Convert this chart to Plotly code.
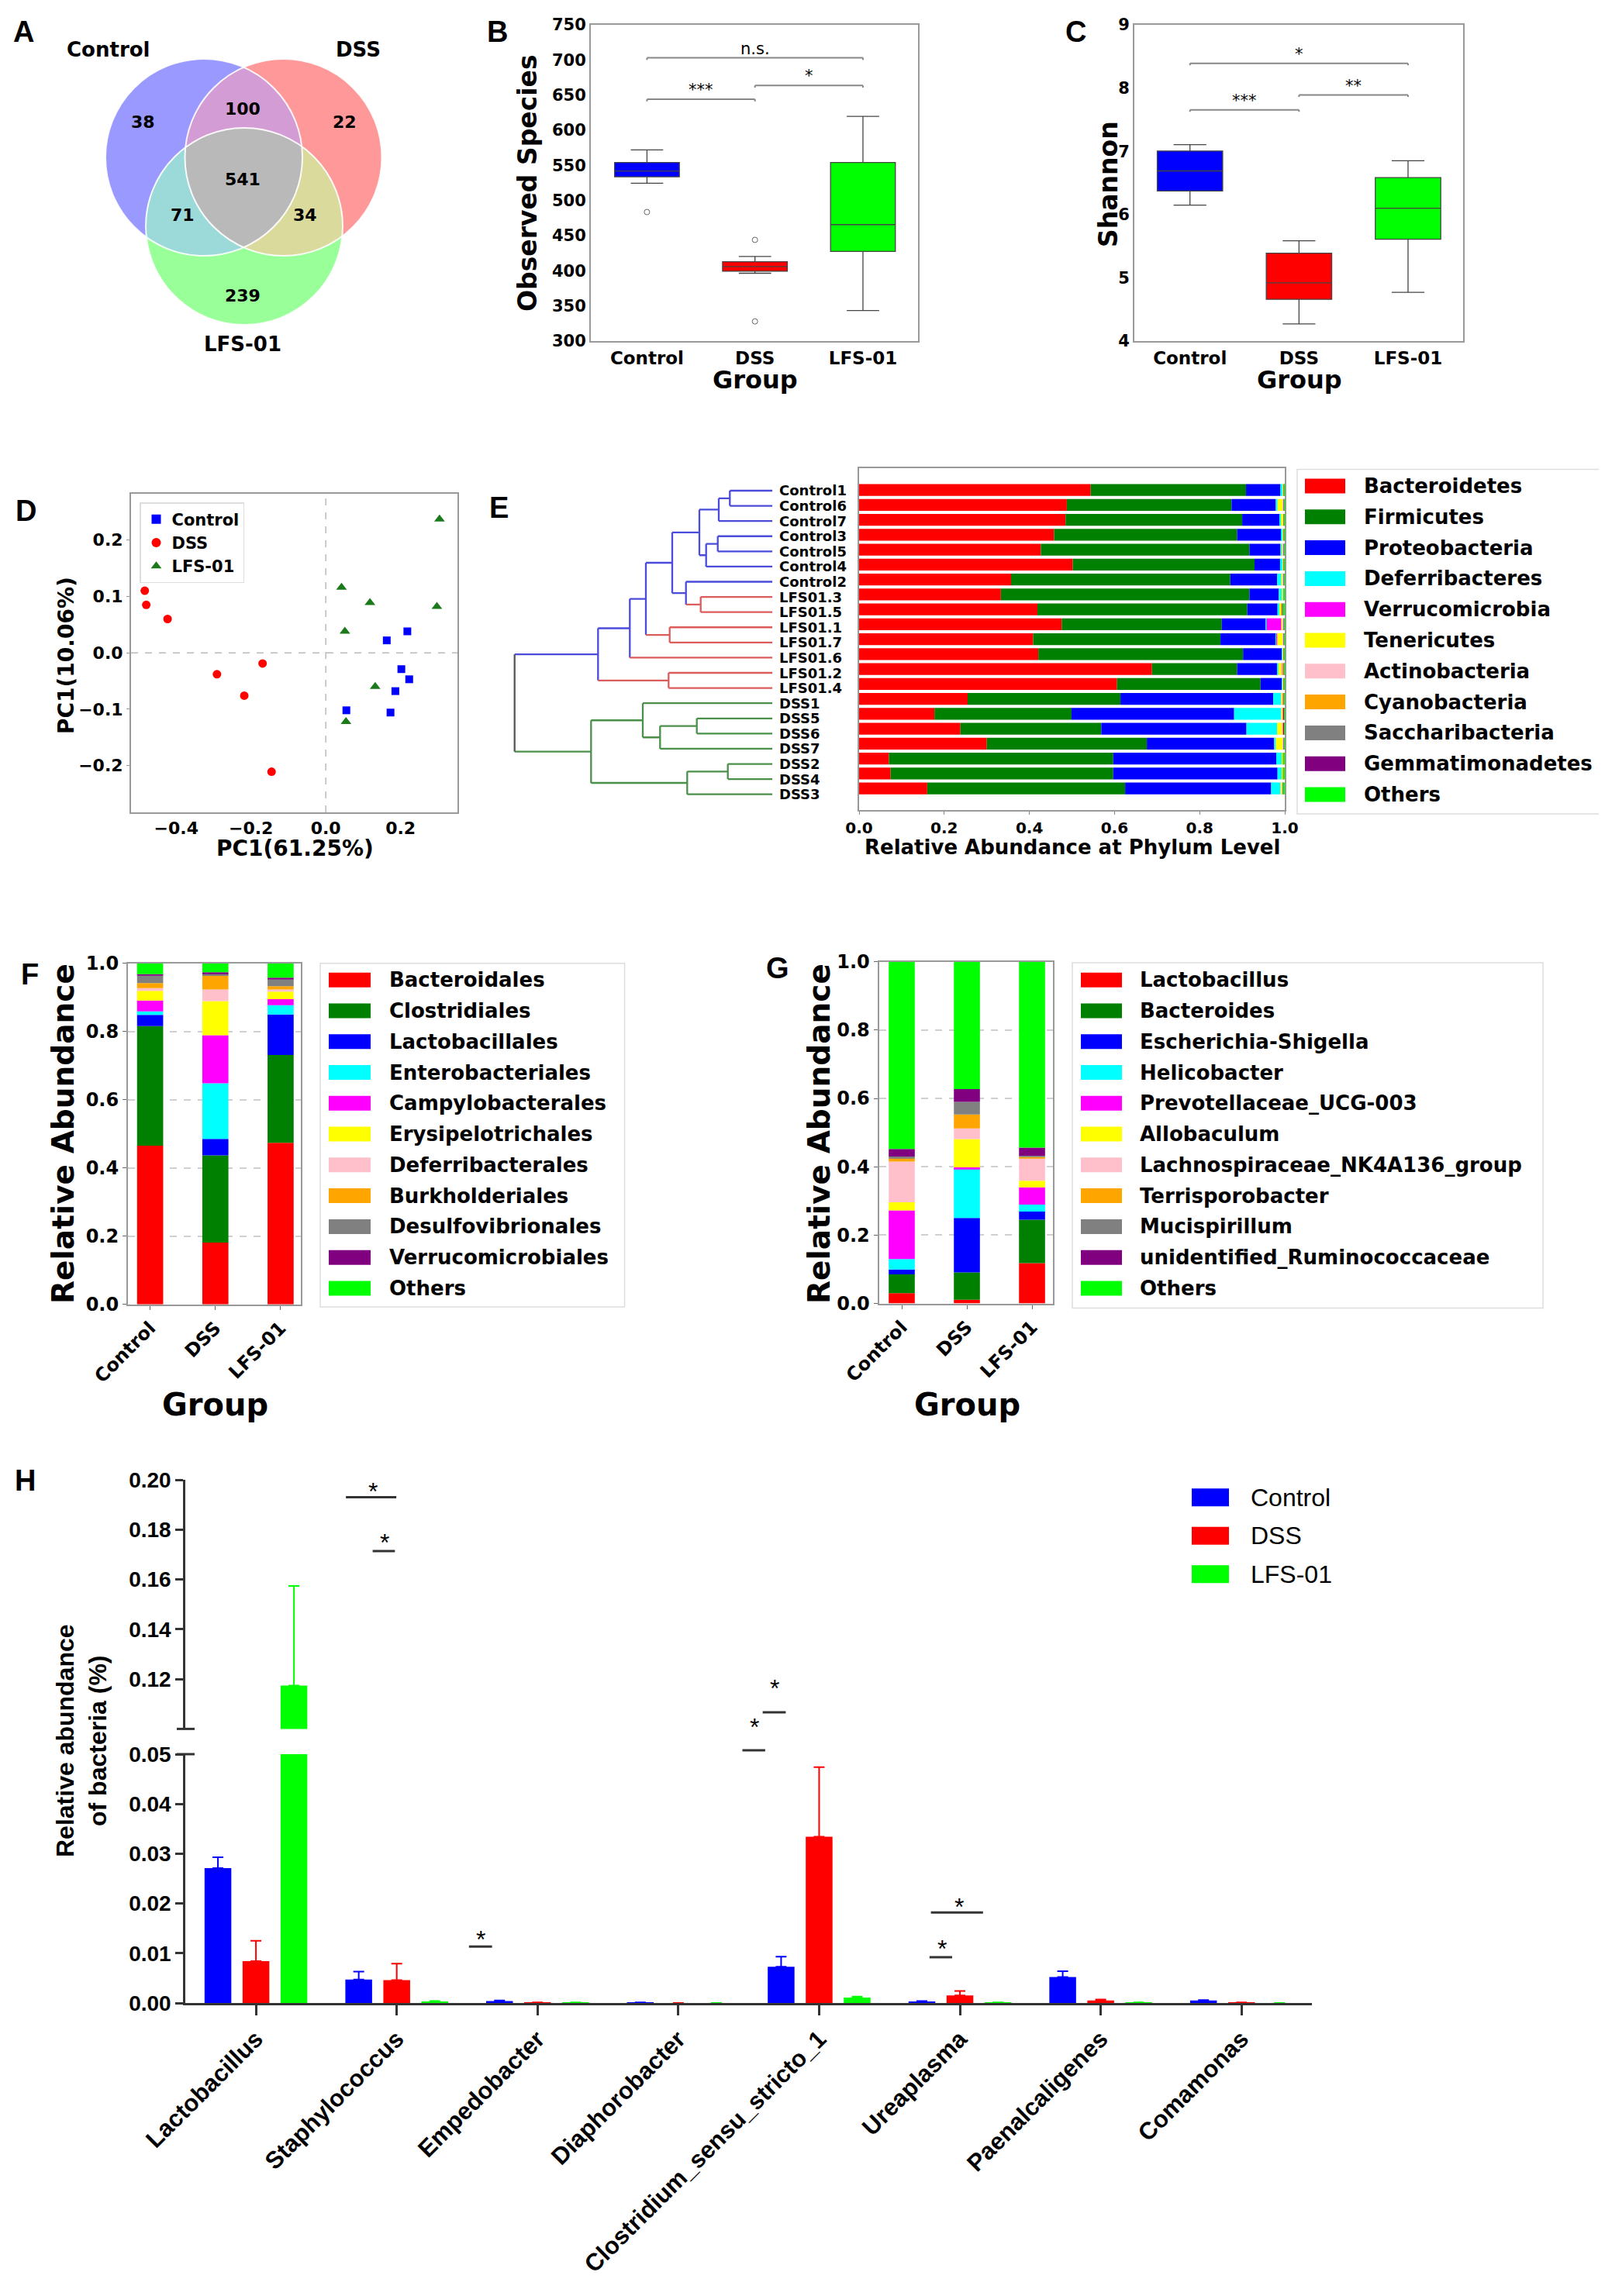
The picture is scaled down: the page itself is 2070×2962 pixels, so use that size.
import numpy as np
import plotly.graph_objects as go

W, H = 2070, 2962
DV = 'DejaVu Sans'
AR = 'Liberation Sans'


def fx(px):
    return px / W


def fy(py):
    return 1 - py / H


def dom_x(left, right):
    return [left / W, right / W]


def dom_y(top, bottom):
    return [1 - bottom / H, 1 - top / H]


def font(size, family=DV, bold=True, **kw):
    d = dict(family=family, size=size, color='black')
    if bold:
        d['weight'] = 'bold'
    d.update(kw)
    return d


# ---------------- data ----------------
groups = ['Control', 'DSS', 'LFS-01']
group_colors = ['#0000ff', '#ff0000', '#00ff00']

# A: OTU venn (Control only, DSS only, LFS only, C&D, C&L, D&L, all)
venn_counts = [38, 22, 239, 100, 71, 34, 541]

# B: observed species
obs_low = [524.6, 396.5, 343.5]
obs_q1 = [533.7, 399.4, 427.6]
obs_med = [542.0, 406.0, 465.7]
obs_q3 = [554.2, 413.0, 554.0]
obs_high = [572.0, 420.3, 619.7]
obs_out_group = [0, 1, 1]
obs_out_value = [483.6, 444.0, 328.0]
obs_sig = [(0, 1, '***', 644), (1, 2, '*', 663.6), (0, 2, 'n.s.', 703)]

# C: shannon
sh_low = [6.15, 4.27, 4.77]
sh_q1 = [6.374, 4.66, 5.61]
sh_med = [6.69, 4.92, 6.10]
sh_q3 = [7.004, 5.39, 6.585]
sh_high = [7.106, 5.585, 6.85]
sh_sig = [(0, 1, '***', 7.655), (1, 2, '**', 7.89), (0, 2, '*', 8.39)]

# D: PCoA
pc_control_x = [0.218, 0.163, 0.202, 0.223, 0.186, 0.055, 0.173]
pc_control_y = [0.038, 0.022, -0.029, -0.047, -0.068, -0.102, -0.106]
pc_dss_x = [-0.484, -0.480, -0.423, -0.169, -0.291, -0.218, -0.145]
pc_dss_y = [0.110, 0.085, 0.060, -0.019, -0.038, -0.076, -0.211]
pc_lfs_x = [0.304, 0.042, 0.118, 0.297, 0.051, 0.132, 0.054]
pc_lfs_y = [0.237, 0.116, 0.089, 0.082, 0.038, -0.060, -0.122]

# E: phylum level per sample (dendrogram order)
samples = ['Control1', 'Control6', 'Control7', 'Control3', 'Control5', 'Control4', 'Control2',
           'LFS01.3', 'LFS01.5', 'LFS01.1', 'LFS01.7', 'LFS01.6', 'LFS01.2', 'LFS01.4',
           'DSS1', 'DSS5', 'DSS6', 'DSS7', 'DSS2', 'DSS4', 'DSS3']
phyla = ['Bacteroidetes', 'Firmicutes', 'Proteobacteria', 'Deferribacteres', 'Verrucomicrobia',
         'Tenericutes', 'Actinobacteria', 'Cyanobacteria', 'Saccharibacteria', 'Gemmatimonadetes', 'Others']
bacteroidetes = [.544, .488, .485, .458, .427, .502, .357, .333, .419, .476, .409, .421, .688, .606,
                 .255, .177, .238, .300, .070, .074, .160]
firmicutes = [.365, .387, .415, .430, .490, .427, .515, .584, .493, .376, .440, .481, .200, .337,
              .359, .322, .331, .376, .527, .523, .465]
proteobacteria = [.081, .104, .088, .104, .073, .060, .110, .069, .071, .103, .130, .091, .094, .050,
                  .359, .382, .341, .299, .383, .386, .343]
deferribacteres = [.006, .004, .003, .003, .004, .006, .010, .008, .005, .002, .002, .002, .003, .002,
                   .019, .111, .072, .004, .013, .010, .022]
verrucomicrobia = [0, 0, 0, 0, 0, 0, 0, 0, 0, .035, .001, 0, 0, 0, 0, 0, 0, 0, 0, 0, 0]
tenericutes = [.002, .013, .006, .002, .002, .002, .004, .002, .003, .004, .014, .002, .006, .002,
               .002, .002, .012, .017, .002, .002, .004]
actinobacteria = [0, .001, .001, .001, .001, .001, .001, .001, .001, .001, .001, .001, .002, .001,
                  .001, .001, .001, .001, .001, .001, .001]
cyanobacteria = [0, .001, 0, 0, 0, 0, .001, 0, .001, .001, .001, 0, .005, 0,
                 .003, .002, .002, .001, .001, .001, .001]
saccharibacteria = [.001, .001, .001, .001, .002, .001, .001, .001, .005, .001, .001, .001, .001, .001,
                    .001, .001, .001, .001, .001, .001, .001]
gemmatimonadetes = [0, 0, 0, 0, 0, 0, 0, 0, 0, 0, 0, 0, 0, 0, 0, .001, .001, 0, 0, 0, 0]
phylum_others = [.001, .001, .001, .001, .001, .001, .001, .002, .002, .001, .001, .001, .001, .001,
                 .001, .001, .001, .001, .002, .002, .003]
phylum_values = [bacteroidetes, firmicutes, proteobacteria, deferribacteres, verrucomicrobia, tenericutes,
                 actinobacteria, cyanobacteria, saccharibacteria, gemmatimonadetes, phylum_others]
taxa_colors = ['#ff0000', '#008000', '#0000ff', '#00ffff', '#ff00ff', '#ffff00',
               '#ffc0cb', '#ffa500', '#808080', '#800080', '#00ff00']

# E: hierarchical clustering (leaves 0-20, merged nodes 21+)
link_left = [0, 21, 3, 23, 22, 7, 6, 25, 9, 28, 30, 12, 31, 15, 34, 14, 18, 37, 36, 33]
link_right = [1, 2, 4, 5, 24, 8, 26, 27, 10, 29, 11, 13, 32, 16, 17, 35, 19, 20, 38, 39]
link_height = [.055, .0693, .0706, .0856, .0943, .0926, .1116, .1293, .1326, .1633,
               .184, .134, .225, .0976, .145, .1673, .0576, .110, .234, .3326]
link_color = ['b', 'b', 'b', 'b', 'b', 'r', 'b', 'b', 'r', 'b', 'b', 'r', 'b', 'g', 'g', 'g', 'g', 'g', 'g', 'k']

# F: order level
orders = ['Bacteroidales', 'Clostridiales', 'Lactobacillales', 'Enterobacteriales', 'Campylobacterales',
          'Erysipelotrichales', 'Deferribacterales', 'Burkholderiales', 'Desulfovibrionales',
          'Verrucomicrobiales', 'Others']
order_values = [[.465, .181, .474], [.351, .256, .257], [.033, .048, .119], [.010, .163, .027],
                [.032, .141, .018], [.028, .100, .022], [.008, .034, .006], [.015, .040, .010],
                [.022, .007, .019], [.004, .004, .006], [.032, .026, .042]]

# G: genus level
genera = ['Lactobacillus', 'Bacteroides', 'Escherichia-Shigella', 'Helicobacter', 'Prevotellaceae_UCG-003',
          'Allobaculum', 'Lachnospiraceae_NK4A136_group', 'Terrisporobacter', 'Mucispirillum',
          'unidentified_Ruminococcaceae', 'Others']
genus_values = [[.030, .011, .118], [.055, .080, .127], [.014, .159, .024], [.031, .144, .020],
                [.142, .004, .051], [.024, .083, .019], [.119, .031, .067], [.011, .041, .003],
                [.004, .037, .003], [.022, .037, .024], [.548, .373, .544]]

# H: selected genera (mean + SEM)
h_genera = ['Lactobacillus', 'Staphylococcus', 'Empedobacter', 'Diaphorobacter',
            'Clostridium_sensu_stricto_1', 'Ureaplasma', 'Paenalcaligenes', 'Comamonas']
h_control = [0.0271, 0.0047, 0.0004, 0.0001, 0.0073, 0.0003, 0.0052, 0.0005]
h_control_sem = [0.0022, 0.0016, 0.0001, None, 0.0020, 0.0001, 0.0012, 0.0001]
h_dss = [0.0084, 0.0046, 0.0001, 0.0, 0.0334, 0.0015, 0.0005, 0.0001]
h_dss_sem = [0.0041, 0.0033, None, None, 0.0140, 0.0009, 0.0002, None]
h_lfs = [0.1174, 0.0003, 0.0001, 0.0, 0.0011, 0.0001, 0.0001, 0.0]
h_lfs_sem = [0.0400, 0.0001, None, None, 0.0002, None, None, None]

# ---------------- figure ----------------
fig = go.Figure()
ann = []
shp = []


def label(text, x, y, size, family=DV, bold=True, angle=0, xanchor='center', yanchor='middle', **kw):
    ann.append(dict(text=text, x=fx(x), y=fy(y), xref='paper', yref='paper', showarrow=False,
                    textangle=angle, xanchor=xanchor, yanchor=yanchor, font=font(size, family, bold), **kw))


# ---- A: venn
circles = [(255, 195, 127), (357.5, 195, 127), (307, 284, 127)]


def circle_pts(c, n=720):
    t = np.linspace(0, 2 * np.pi, n, endpoint=False)
    return np.c_[c[0] + c[2] * np.cos(t), c[1] + c[2] * np.sin(t)]


def overlap(cs):
    pts = []
    for i, c in enumerate(cs):
        p = circle_pts(c)
        keep = np.ones(len(p), bool)
        for j, o in enumerate(cs):
            if j != i:
                keep &= (p[:, 0] - o[0]) ** 2 + (p[:, 1] - o[1]) ** 2 <= o[2] ** 2
        pts.append(p[keep])
    pts = np.vstack(pts)
    m = pts.mean(axis=0)
    return pts[np.argsort(np.arctan2(pts[:, 1] - m[1], pts[:, 0] - m[0]))]


region_sets = [[0], [1], [2], [0, 1], [0, 2], [1, 2], [0, 1, 2]]
region_fill = ['#9999ff', '#ff9999', '#99ff99', '#d49cd4', '#9cdada', '#dada9c', '#b9b9b9']
region_text = [(176, 149), (436, 149), (305, 373), (305, 132), (227, 269), (385, 269), (305, 223)]
for sets, col in zip(region_sets, region_fill):
    p = overlap([circles[k] for k in sets])
    fig.add_trace(go.Scatter(x=np.append(p[:, 0], p[0, 0]), y=np.append(p[:, 1], p[0, 1]),
                             fill='toself', fillcolor=col, mode='lines', line=dict(width=0, color=col),
                             hoverinfo='skip', showlegend=False, xaxis='x', yaxis='y'))
for c in circles:
    shp.append(dict(type='circle', xref='x', yref='y', x0=c[0] - c[2], x1=c[0] + c[2],
                    y0=c[1] - c[2], y1=c[1] + c[2], line=dict(color='rgba(255,255,255,0.9)', width=2)))
for n, (tx, ty) in zip(venn_counts, region_text):
    label(str(n), tx, ty, 22)
for g, (tx, ty) in zip(groups, [(131, 56), (454, 56), (305, 436)]):
    label(g, tx, ty, 26)


# ---- B / C: box plots
def box_panel(xa, ya, lows, q1s, meds, q3s, highs, sig, drop):
    for k, col in enumerate(group_colors):
        fig.add_trace(go.Box(x=[k], lowerfence=[lows[k]], q1=[q1s[k]], median=[meds[k]], q3=[q3s[k]],
                             upperfence=[highs[k]], fillcolor=col, line=dict(color='#444444', width=1.3),
                             width=0.6, whiskerwidth=0.5, boxpoints=False, hoverinfo='skip',
                             showlegend=False, xaxis=xa, yaxis=ya))
    for i, j, txt, y in sig:
        for x0, y0, x1, y1 in [(i, y - drop, i, y), (i, y, j, y), (j, y, j, y - drop)]:
            shp.append(dict(type='line', xref=xa, yref=ya, x0=x0, y0=y0, x1=x1, y1=y1,
                            line=dict(color='#888888', width=2)))
        ann.append(dict(text=txt, x=(i + j) / 2, y=y, xref=xa, yref=ya, showarrow=False,
                        yanchor='bottom', yshift=-2, font=font(21, bold=False)))


box_panel('x2', 'y2', obs_low, obs_q1, obs_med, obs_q3, obs_high, obs_sig, 3)
fig.add_trace(go.Scatter(x=obs_out_group, y=obs_out_value, mode='markers',
                         marker=dict(symbol='circle-open', size=7, color='#666666', line=dict(width=1)),
                         hoverinfo='skip', showlegend=False, xaxis='x2', yaxis='y2'))
box_panel('x3', 'y3', sh_low, sh_q1, sh_med, sh_q3, sh_high, sh_sig, 0.03)
label('Observed Species', 673, 228, 33, angle=-90)
label('Shannon', 1421, 230, 33, angle=-90)
label('Group', 966, 482, 32)
label('Group', 1668, 482, 32)

# ---- D: PCoA
for name, xs, ys, sym, col, size in [('Control', pc_control_x, pc_control_y, 'square', '#0000ff', 10),
                                     ('DSS', pc_dss_x, pc_dss_y, 'circle', '#ff0000', 11),
                                     ('LFS-01', pc_lfs_x, pc_lfs_y, 'triangle-up', '#1a7a1a', 12)]:
    fig.add_trace(go.Scatter(x=xs, y=ys, mode='markers', name=name,
                             marker=dict(symbol=sym, size=size, color=col),
                             hoverinfo='skip', xaxis='x4', yaxis='y4'))
shp.append(dict(type='line', xref='x4', yref='y4 domain', x0=0, x1=0, y0=0, y1=1, layer='below',
                line=dict(color='#bbbbbb', width=1.5, dash='dash')))
shp.append(dict(type='line', xref='x4 domain', yref='y4', x0=0, x1=1, y0=0, y1=0, layer='below',
                line=dict(color='#bbbbbb', width=1.5, dash='dash')))
label('PC1(61.25%)', 372, 1087, 28)
label('PC1(10.06%)', 77, 838, 28, angle=-90)

# ---- E: dendrogram
dendro_colors = {'b': '#4b4bdc', 'r': '#dc5c5c', 'g': '#4a904a', 'k': '#555555'}
node_y = list(range(len(samples)))
node_h = [0.0] * len(samples)
node_c = ['b' if s.startswith('Control') else 'r' if s.startswith('LFS') else 'g' for s in samples]
segments = {k: ([], []) for k in dendro_colors}
for l, r, h, c in zip(link_left, link_right, link_height, link_color):
    for child in (l, r):
        sx, sy = segments[node_c[child]]
        sx += [node_h[child], h, None]
        sy += [node_y[child], node_y[child], None]
    sx, sy = segments[c]
    sx += [h, h, None]
    sy += [node_y[l], node_y[r], None]
    node_y.append((node_y[l] + node_y[r]) / 2)
    node_h.append(h)
    node_c.append(c)
for k, (sx, sy) in segments.items():
    fig.add_trace(go.Scatter(x=sx, y=sy, mode='lines', line=dict(color=dendro_colors[k], width=2.3),
                             hoverinfo='skip', showlegend=False, xaxis='x5', yaxis='y5'))
for i, s in enumerate(samples):
    ann.append(dict(text=s, x=0, y=i, xref='x5', yref='y5', showarrow=False, xanchor='left',
                    xshift=7, font=font(18)))


# ---- stacked bars (E, F, G)
def stacked(values, colors, positions, xa, ya, width, horizontal=False):
    base = np.zeros(len(positions))
    for vals, col in zip(values, colors):
        vals = np.asarray(vals, float)
        if horizontal:
            tr = go.Bar(x=vals, y=positions, base=base.copy(), orientation='h')
        else:
            tr = go.Bar(x=positions, y=vals, base=base.copy())
        tr.update(marker=dict(color=col, line=dict(width=0)), width=width, hoverinfo='skip',
                  showlegend=False, xaxis=xa, yaxis=ya)
        fig.add_trace(tr)
        base += vals


stacked(phylum_values, taxa_colors, list(range(len(samples))), 'x6', 'y6', 0.8, horizontal=True)
stacked(order_values, taxa_colors, list(range(len(groups))), 'x7', 'y7', 0.4)
stacked(genus_values, taxa_colors, list(range(len(groups))), 'x8', 'y8', 0.4)
label('Relative Abundance at Phylum Level', 1375, 1085, 26)
label('Relative Abundance', 73, 1455, 39, angle=-90)
label('Group', 269, 1804, 40)
label('Relative Abundance', 1048, 1455, 39, angle=-90)
label('Group', 1239, 1804, 40)


def manual_legend(names, colors, box, patch_x, row0, step, text_x, patch_h, size, family=DV, bold=True):
    if box:
        shp.append(dict(type='rect', xref='paper', yref='paper', x0=fx(box[0]), x1=fx(box[2]),
                        y0=fy(box[3]), y1=fy(box[1]), line=dict(color='#dddddd', width=1.5)))
    for i, (n, c) in enumerate(zip(names, colors)):
        yc = row0 + step * i
        shp.append(dict(type='rect', xref='paper', yref='paper', x0=fx(patch_x[0]), x1=fx(patch_x[1]),
                        y0=fy(yc + patch_h / 2), y1=fy(yc - patch_h / 2), fillcolor=c, line=dict(width=0)))
        label(n, text_x, yc, size, family, bold, xanchor='left')


manual_legend(phyla, taxa_colors, (1665, 597.5, 2062, 1042), (1675, 1727), 619, 39.8, 1749, 19, 26)
manual_legend(orders, taxa_colors, (405, 1234.7, 797.6, 1678), (416, 470), 1256.3, 39.76, 492, 19, 26)
manual_legend(genera, taxa_colors, (1375, 1233.9, 1982, 1679.6), (1386, 1439), 1256.3, 39.76, 1460, 19, 26)

# ---- H: broken-axis grouped bars
h_pos = list(range(len(h_genera)))
for vals, sem, col, off in [(h_control, h_control_sem, '#0000ff', -0.365),
                            (h_dss, h_dss_sem, '#ff0000', -0.095),
                            (h_lfs, h_lfs_sem, '#00ff00', 0.175)]:
    for ya in ('y9', 'y10'):
        fig.add_trace(go.Bar(x=h_pos, y=vals, width=0.19, offset=off, marker=dict(color=col, line=dict(width=0)),
                             error_y=dict(type='data', array=sem, arrayminus=[0] * len(sem), symmetric=False,
                                          color=col, thickness=2, width=7),
                             hoverinfo='skip', showlegend=False, xaxis='x9', yaxis=ya))

h_line = dict(color='#333333', width=3)
for x0, x1, y in [(0.639, 0.997, 0.193), (0.829, 0.987, 0.1714)]:
    shp.append(dict(type='line', xref='x9', yref='y10', x0=x0, x1=x1, y0=y, y1=y, line=h_line))
for x, y in [(0.829, 0.1974), (0.911, 0.1771)]:
    ann.append(dict(text='*', x=x, y=y, xref='x9', yref='y10', showarrow=False, yshift=-7, font=font(32, AR, False)))
for x0, x1, y in [(1.513, 1.677, 0.01134), (4.794, 5.164, 0.01818), (4.784, 4.945, 0.0092)]:
    shp.append(dict(type='line', xref='x9', yref='y9', x0=x0, x1=x1, y0=y, y1=y, line=h_line))
for x, y in [(1.598, 0.0139), (4.995, 0.02037), (4.871, 0.01193)]:
    ann.append(dict(text='*', x=x, y=y, xref='x9', yref='y9', showarrow=False, yshift=-7, font=font(32, AR, False)))
for x0, x1, py in [(3.599, 3.763, 2201), (3.455, 3.617, 2250)]:
    shp.append(dict(type='line', xref='x9', yref='paper', x0=x0, x1=x1, y0=fy(py), y1=fy(py), line=h_line))
for x, py in [(3.685, 2183.3), (3.543, 2233.3)]:
    ann.append(dict(text='*', x=x, y=fy(py), xref='x9', yref='paper', showarrow=False, yshift=-7,
                    font=font(32, AR, False)))
for py in (2222.4, 2255):
    shp.append(dict(type='line', xref='paper', yref='paper', x0=fx(220), x1=fx(243), y0=fy(py), y1=fy(py),
                    line=h_line))
label('Relative abundance<br>of bacteria (%)', 97, 2238, 32, AR, angle=-90)
manual_legend(groups, group_colors, None, (1529, 1577), 1923.7, 49.5, 1602.5, 23, 32, AR, False)

# ---- panel letters
for t, x, y in [('A', 22, 33), ('B', 633, 33), ('C', 1379, 33), ('D', 25, 651), ('E', 635, 647),
                ('F', 30, 1249), ('G', 995, 1241), ('H', 24, 1902)]:
    label(t, x, y, 38, AR)

# ---------------- layout ----------------
frame = dict(showline=True, mirror=True, linecolor='#999999', linewidth=2, showgrid=False, zeroline=False)
h_axis = dict(showline=True, linecolor='#333333', linewidth=3, ticks='outside', tickcolor='#333333',
              tickwidth=3, showgrid=False, zeroline=False)

fig.update_layout(
    template='none',
    width=W, height=H, autosize=False, margin=dict(l=0, r=0, t=0, b=0, pad=0, autoexpand=False),
    paper_bgcolor='white', plot_bgcolor='white', barmode='overlay',
    font=dict(family=DV, color='black'),
    annotations=ann, shapes=shp,
    legend=dict(x=fx(172), y=fy(640), xanchor='left', yanchor='top', bgcolor='white',
                bordercolor='#dddddd', borderwidth=1.5, font=font(21), itemsizing='constant'),
    # A
    xaxis=dict(domain=dom_x(0, 560), range=[0, 560], visible=False),
    yaxis=dict(domain=dom_y(0, 480), range=[480, 0], visible=False),
    # B
    xaxis2=dict(domain=dom_x(754, 1176), range=[-0.52, 2.51], anchor='y2', tickvals=[0, 1, 2],
                ticktext=groups, ticks='', tickfont=font(23), **frame),
    yaxis2=dict(domain=dom_y(24, 432), range=[300, 750], anchor='x2', dtick=50, ticks='',
                tickfont=font(21), **frame),
    # C
    xaxis3=dict(domain=dom_x(1455, 1879), range=[-0.51, 2.505], anchor='y3', tickvals=[0, 1, 2],
                ticktext=groups, ticks='', tickfont=font(23), **frame),
    yaxis3=dict(domain=dom_y(24, 432), range=[4, 9], anchor='x3', dtick=1, ticks='',
                tickfont=font(21), **frame),
    # D
    xaxis4=dict(domain=dom_x(161, 582), range=[-0.5207, 0.352], anchor='y4', tickvals=[-0.4, -0.2, 0, 0.2],
                tickformat='.1f', ticks='', tickfont=font(22), **frame),
    yaxis4=dict(domain=dom_y(629, 1040), range=[-0.283, 0.282], anchor='x4',
                tickvals=[-0.2, -0.1, 0, 0.1, 0.2], tickformat='.1f', ticks='outside', ticklen=4,
                tickcolor='#999999', tickfont=font(22), **frame),
    # E dendrogram
    xaxis5=dict(domain=dom_x(640, 988.3), range=[0.3483, 0], anchor='y5', visible=False),
    yaxis5=dict(domain=dom_y(615.2, 1026.5), range=[20.5, -0.5], anchor='x5', visible=False),
    # E bars
    xaxis6=dict(domain=dom_x(1100, 1649), range=[0, 1], anchor='y6', tickvals=[0, 0.2, 0.4, 0.6, 0.8, 1.0],
                tickformat='.1f', ticks='outside', ticklen=4, tickcolor='#888888', tickfont=font(20), **frame),
    yaxis6=dict(domain=dom_y(596.4, 1036.8), range=[21.44, -1.44], anchor='x6', showticklabels=False,
                ticks='', **frame),
    # F
    xaxis7=dict(domain=dom_x(157, 380), range=[-0.34, 2.31], anchor='y7', tickvals=[0, 1, 2], ticktext=groups,
                tickangle=-45, ticks='outside', ticklen=5, tickcolor='#666666', tickfont=font(24), **frame),
    yaxis7=dict(domain=dom_y(1234.7, 1674.7), range=[0, 1], anchor='x7', tickvals=[0, 0.2, 0.4, 0.6, 0.8, 1.0],
                tickformat='.1f', ticks='outside', ticklen=5, tickcolor='#666666', tickfont=font(24),
                **{**frame, 'showgrid': True}, gridcolor='#d0d0d0', griddash='dash', gridwidth=1.5),
    # G
    xaxis8=dict(domain=dom_x(1125.6, 1349.5), range=[-0.35, 2.315], anchor='y8', tickvals=[0, 1, 2],
                ticktext=groups, tickangle=-45, ticks='outside', ticklen=5, tickcolor='#666666',
                tickfont=font(24), **frame),
    yaxis8=dict(domain=dom_y(1232.7, 1673.5), range=[0, 1], anchor='x8', tickvals=[0, 0.2, 0.4, 0.6, 0.8, 1.0],
                tickformat='.1f', ticks='outside', ticklen=5, tickcolor='#666666', tickfont=font(24),
                **{**frame, 'showgrid': True}, gridcolor='#d0d0d0', griddash='dash', gridwidth=1.5),
    # H
    xaxis9=dict(domain=dom_x(231.3, 1684), range=[-0.5, 7.5], anchor='y9', tickvals=h_pos, ticktext=h_genera,
                tickangle=-45, ticklen=13, tickfont=font(31, AR), **h_axis),
    yaxis9=dict(domain=dom_y(2255, 2576), range=[0, 0.05], anchor='x9',
                tickvals=[0, 0.01, 0.02, 0.03, 0.04, 0.05], tickformat='.2f', ticklen=10,
                tickfont=font(28, AR), **h_axis),
    yaxis10=dict(domain=dom_y(1901.1, 2222.4), range=[0.1, 0.2], anchor='x9',
                 tickvals=[0.12, 0.14, 0.16, 0.18, 0.20], tickformat='.2f', ticklen=10,
                 tickfont=font(28, AR), **h_axis),
)

fig.write_html('out.html')
